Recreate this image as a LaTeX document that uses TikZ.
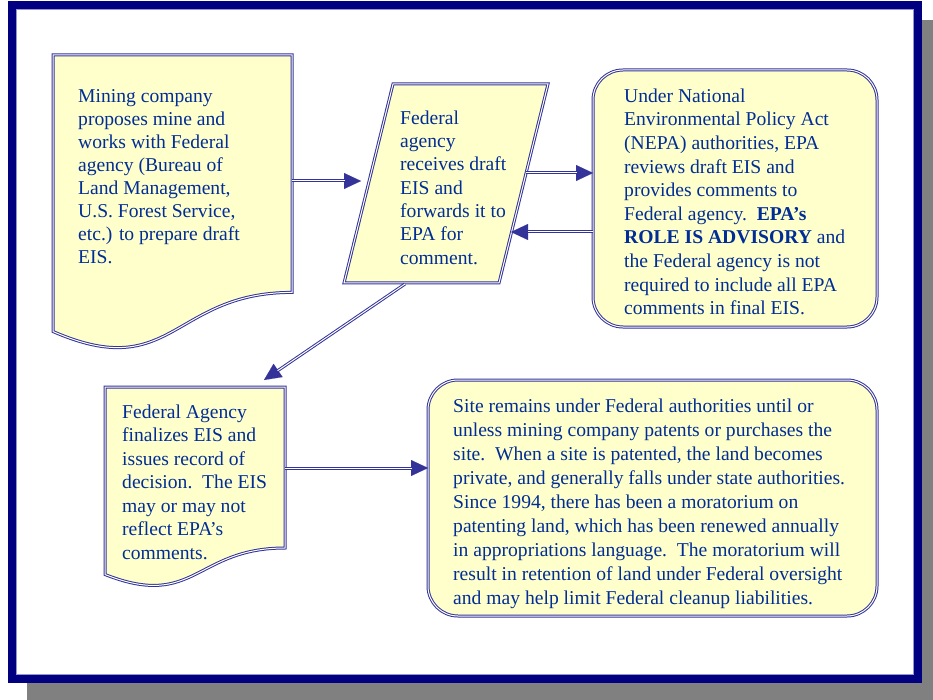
\documentclass[tikz,border=0pt]{standalone}
\usepackage{fontspec}
\setmainfont{Liberation Serif}
\usetikzlibrary{arrows.meta}
\definecolor{navyf}{RGB}{0,0,128}
\definecolor{shadowg}{RGB}{128,128,128}
\definecolor{boxblue}{RGB}{51,51,153}
\definecolor{txtblue}{RGB}{0,45,150}
\definecolor{fillyel}{RGB}{255,255,204}
\definecolor{lightline}{RGB}{150,150,210}
\tikzset{
  boxline/.style={draw=boxblue, double=white, line width=1pt, double distance=1pt, fill=fillyel},
  shaft/.style={draw=boxblue, double=white, line width=1pt, double distance=1pt, shorten >=16.5pt},
  headtip/.style={draw=boxblue, fill=boxblue, line width=0.1pt, -{Triangle[length=17pt,width=16pt]}},
  txt/.style={inner sep=0pt, anchor=north west, align=left, text=txtblue},
  fs/.style={font=\fontsize{19.6}{#1}\selectfont}
}
\begin{document}
\begin{tikzpicture}[x=1pt,y=-1pt]
\useasboundingbox (0,0) rectangle (933,700);
% frame and shadow
\fill[shadowg] (27,20) rectangle (933,700);
\fill[white] (8,1) rectangle (922,683);
\draw[navyf, line width=8pt] (12,5) rectangle (918,679);
\draw[lightline, line width=0.8pt] (16.4,9.4) rectangle (913.6,674.6);

% shapes
\draw[boxline] (53,55) -- (292,55) -- (292,292.4)
  .. controls (172.5,292.4) and (172.5,383.7) .. (53,331.5) -- cycle;
\draw[boxline] (393,84) -- (548,84) -- (499,283) -- (344,283) -- cycle;
\draw[boxline, rounded corners=30pt] (593,70) rectangle (877,327);
\draw[boxline] (105,387) -- (285,387) -- (285,548)
  .. controls (195,548) and (195,609.9) .. (105,574.5) -- cycle;
\draw[boxline, rounded corners=30pt] (428,380) rectangle (877,616);

% texts
\node[txt, fs=23.0] (t1) at (78,89.6) {Mining company\\proposes mine and\\works with Federal\\agency (Bureau of\\Land Management,\\U.S. Forest Service,\\etc.) to prepare draft\\EIS.};
\node[txt, fs=23.3] (t2) at (400,110.6) {Federal\\agency\\receives draft\\EIS and\\forwards it to\\EPA for\\comment.};
\node[txt, fs=23.6] (t3) at (624,88.6) {Under National\\Environmental Policy Act\\(NEPA) authorities, EPA\\reviews draft EIS and\\provides comments to\\Federal agency.\ \ \textbf{EPA’s}\\\textbf{ROLE IS ADVISORY} and\\the Federal agency is not\\required to include all EPA\\comments in final EIS.};
\node[txt, fs=23.5] (t4) at (122,404.6) {Federal Agency\\finalizes EIS and\\issues record of\\decision.\ \ The EIS\\may or may not\\reflect EPA’s\\comments.};
\node[txt, fs=24.0] (t5) at (453,398.6) {Site remains under Federal authorities until or\\unless mining company patents or purchases the\\site.\ \ When a site is patented, the land becomes\\private, and generally falls under state authorities.\\Since 1994, there has been a moratorium on\\patenting land, which has been renewed annually\\in appropriations language.\ \ The moratorium will\\result in retention of land under Federal oversight\\and may help limit Federal cleanup liabilities.};

% connector endpoints
\coordinate (a1s) at (292,181);  \coordinate (a1e) at (361,181);
\coordinate (a2s) at (526,173);  \coordinate (a2e) at (593,173);
\coordinate (a3s) at (593,232);  \coordinate (a3e) at (511,232);
\coordinate (a4s) at (405,284);  \coordinate (a4e) at (264,380);
\coordinate (a5s) at (285,468);  \coordinate (a5e) at (428,468);

\foreach \s/\e in {a1s/a1e,a2s/a2e,a3s/a3e,a4s/a4e,a5s/a5e}{
  \draw[headtip, shorten <=0pt] (\s) -- (\e);
  \draw[shaft] (\s) -- (\e);
}
\end{tikzpicture}
\end{document}
